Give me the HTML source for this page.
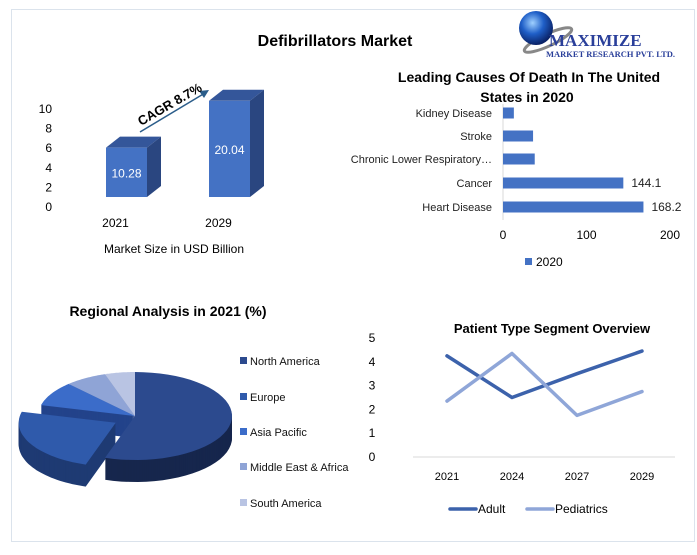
<!DOCTYPE html>
<html><head><meta charset="utf-8">
<style>
html,body{margin:0;padding:0;background:#fff;}
svg{display:block;font-family:"Liberation Sans","DejaVu Sans",sans-serif;}
</style></head>
<body>
<svg id="root" width="697" height="555" viewBox="0 0 697 555" xmlns="http://www.w3.org/2000/svg">
<defs>
<radialGradient id="globe" cx="40%" cy="35%" r="65%">
<stop offset="0" stop-color="#9fd0ff"/><stop offset="0.5" stop-color="#1f5fc8"/><stop offset="1" stop-color="#0a2266"/>
</radialGradient>
</defs>
<rect x="11.5" y="9.5" width="683" height="532" fill="#fff" stroke="#dbe3ec" stroke-width="1"/>
<text x="335" y="46" font-size="16" font-weight="bold" text-anchor="middle" fill="#000">Defibrillators Market</text>

<g>
<ellipse cx="548" cy="40" rx="26" ry="6" fill="none" stroke="#888" stroke-width="3" transform="rotate(-25 548 40)"/>
<circle cx="536" cy="28" r="17" fill="url(#globe)"/>
<text x="549" y="46" font-family="Liberation Serif,serif" font-size="17" font-weight="bold" fill="#2a3f9a">MAXIMIZE</text>
<text x="546" y="57" font-family="Liberation Serif,serif" font-size="8.5" font-weight="bold" fill="#2a3f9a">MARKET RESEARCH PVT. LTD.</text>
</g>

<g id="mkt"></g>
<g id="hbar"></g>
<g id="pie"></g>
<g id="line"></g>
</svg>
<script>
const NS="http://www.w3.org/2000/svg";
function mk(parent,tag,attrs,txt){const e=document.createElementNS(NS,tag);for(const k in attrs)e.setAttribute(k,attrs[k]);if(txt!==undefined)e.textContent=txt;parent.appendChild(e);return e;}

// ---- Market size chart data ----
const mktYears=["2021","2029"];
const mktValues=[10.28,20.04];
const mktTicks=[0,2,4,6,8,10];
// ---- Causes of death ----
const causeNames=["Heart Disease","Cancer","Chronic Lower Respiratory…","Stroke","Kidney Disease"];
const causeValues=[168.2,144.1,38,36,13];
const causeLabels=["168.2","144.1","","",""];
const causeTicks=[0,100,200];
// ---- Regional pie ----
const regions=["North America","Europe","Asia Pacific","Middle East & Africa","South America"];
const regionShares=[55,24,9,7,5];
const regionColors=["#2c4a8e","#2f5aab","#3b6cc9","#8fa4d6","#b9c4e3"];
// ---- Patient type ----
const lineYears=["2021","2024","2027","2029"];
const adultValues=[4.25,2.5,3.5,4.45];
const pedValues=[2.35,4.35,1.75,2.75];
const lineTicks=[0,1,2,3,4,5];

// Market chart
(function(){
 const g=document.getElementById('mkt');
 const y0=197, tickScale=9.8, barScale=4.8;
 const yT=v=>y0+10-v*tickScale;
 mktTicks.forEach(t=>{const e=mk(g,'text',{x:52,y:yT(t)+4,'font-size':12,'text-anchor':'end',fill:'#000'},String(t));
 
 });
 const xs=[106,209], w=41, dx=14, dy=11;
 mktValues.forEach((v,i)=>{
  const h=v*barScale, x=xs[i], top=y0-h;
  const b=mk(g,'g',{});
  
  
  mk(b,'polygon',{points:`${x},${top} ${x+dx},${top-dy} ${x+w+dx},${top-dy} ${x+w},${top}`,fill:'#34569a'});
  mk(b,'polygon',{points:`${x+w},${top} ${x+w+dx},${top-dy} ${x+w+dx},${y0-dy} ${x+w},${y0}`,fill:'#2a4680'});
  mk(b,'rect',{x:x,y:top,width:w,height:h,fill:'#4472c4'});
  const l=mk(g,'text',{x:x+w/2,y:top+h/2+5,'font-size':12,'text-anchor':'middle',fill:'#fff'},mktValues[i].toFixed(2));
  
  
  const yl=mk(g,'text',{x:x+w/2-11,y:227,'font-size':12,'text-anchor':'middle',fill:'#000'},mktYears[i]);
  
  
 });
 mk(g,'line',{x1:140,y1:132,x2:205,y2:93,stroke:'#2b5d8a','stroke-width':1.5});
 mk(g,'polygon',{points:'209,90 199,91 204,98',fill:'#2b5d8a'});
 const c=mk(g,'text',{x:0,y:0,'font-size':13,'font-weight':'bold',fill:'#000',transform:'translate(141,126) rotate(-30)'},'CAGR 8.7%');
 
 
 const cap=mk(g,'text',{x:174,y:253,'font-size':12,'text-anchor':'middle',fill:'#000'},'Market Size in USD Billion');
 
 
})();

// Horizontal bar chart
(function(){
 const g=document.getElementById('hbar');
 const x0=503, k=0.835, rowY=[207,183,159,136,113], h=11;
 const X=v=>x0+v*k;
 const t1=mk(g,'text',{x:529,y:82,'font-size':14,'font-weight':'bold','text-anchor':'middle'},'Leading Causes Of Death In The United');
 
 
 const t2=mk(g,'text',{x:527,y:102,'font-size':14,'font-weight':'bold','text-anchor':'middle'},'States in 2020');
 
 
 mk(g,'line',{x1:x0,y1:104,x2:x0,y2:220,stroke:'#d9d9d9'});
 causeValues.forEach((v,i)=>{
  const r=mk(g,'rect',{x:x0,y:rowY[i]-h/2,width:v*k,height:h,fill:'#4472c4'});
  
  
  const l=mk(g,'text',{x:492,y:rowY[i]+4,'font-size':11,'text-anchor':'end',fill:'#222'},causeNames[i]);
  
  
  if(causeLabels[i]){const d=mk(g,'text',{x:X(v)+8,y:rowY[i]+4,'font-size':12,fill:'#222'},causeLabels[i]);
  
  }
 });
 causeTicks.forEach(t=>{const e=mk(g,'text',{x:X(t),y:239,'font-size':12,'text-anchor':'middle'},String(t));
 
 });
 const lg=mk(g,'g',{});
 
 
 mk(lg,'rect',{x:525,y:258,width:7,height:7,fill:'#4472c4'});
 mk(lg,'text',{x:536,y:266,'font-size':12},'2020');
})();

// Pie chart
(function(){
 const g=document.getElementById('pie');
 const t=mk(g,'text',{x:168,y:316,'font-size':14,'font-weight':'bold','text-anchor':'middle'},'Regional Analysis in 2021 (%)');
 
 
 const cx=135, cy=416, rx=97, ry=44, depth=22;
 const total=regionShares.reduce((a,b)=>a+b,0);
 const dark=["#16264d","#1e3a73","#23438a","#5a6fa3","#8290b8"];
 const slices=[];let a=0;
 regionShares.forEach((v,i)=>{const a1=a+v/total*2*Math.PI;slices.push([a,a1]);a=a1;});
 function pathFor(a0,a1,ox,oy){
  const pt=an=>[cx+ox+rx*Math.sin(an),cy+oy-ry*Math.cos(an)];
  let d=`M${cx+ox},${cy+oy}`;const n=40;
  for(let j=0;j<=n;j++){const p=pt(a0+(a1-a0)*j/n);d+=` L${p[0].toFixed(1)},${p[1].toFixed(1)}`;}
  return d+'Z';
 }
 const off=slices.map((s,i)=>{if(i!==1)return[0,0];const m=(s[0]+s[1])/2;return[22*Math.sin(m),14*-Math.cos(m)];});
 for(let dd=depth;dd>0;dd-=1){
  slices.forEach((s,i)=>{mk(g,'path',{d:pathFor(s[0],s[1],off[i][0],off[i][1]+dd),fill:dark[i]});});
 }
 slices.forEach((s,i)=>{
  const p=mk(g,'path',{d:pathFor(s[0],s[1],off[i][0],off[i][1]),fill:regionColors[i]});
  
  
 });
 const ly=[361,397,432,467,503];
 regions.forEach((r,i)=>{
  const e=mk(g,'g',{});
  
  
  mk(e,'rect',{x:240,y:ly[i]-4,width:7,height:7,fill:regionColors[i]});
  mk(e,'text',{x:250,y:ly[i]+4,'font-size':11,fill:'#111'},r);
 });
})();

// Line chart
(function(){
 const g=document.getElementById('line');
 const t=mk(g,'text',{x:552,y:333,'font-size':13,'font-weight':'bold','text-anchor':'middle'},'Patient Type Segment Overview');
 
 
 const y0=457, k=23.8, xs0=447, dx=65;
 const Y=v=>y0-v*k, X=i=>xs0+i*dx;
 mk(g,'line',{x1:413,y1:y0,x2:675,y2:y0,stroke:'#d9d9d9'});
 lineTicks.forEach(v=>{const e=mk(g,'text',{x:372,y:Y(v)+4,'font-size':12,'text-anchor':'middle'},String(v));
 
 });
 lineYears.forEach((yr,i)=>{const e=mk(g,'text',{x:X(i),y:480,'font-size':11,'text-anchor':'middle'},yr);
 
 });
 const a=mk(g,'polyline',{points:adultValues.map((v,i)=>X(i)+','+Y(v)).join(' '),fill:'none',stroke:'#3c62ab','stroke-width':3.5,'stroke-linejoin':'round','stroke-linecap':'round'});
 
 
 const p=mk(g,'polyline',{points:pedValues.map((v,i)=>X(i)+','+Y(v)).join(' '),fill:'none',stroke:'#8fa6d8','stroke-width':3.5,'stroke-linejoin':'round','stroke-linecap':'round'});
 
 
 const l1=mk(g,'g',{});
 
 
 mk(l1,'line',{x1:450,y1:509,x2:476,y2:509,stroke:'#3c62ab','stroke-width':3.5,'stroke-linecap':'round'});
 mk(l1,'text',{x:478,y:513,'font-size':12},'Adult');
 const l2=mk(g,'g',{});
 
 
 mk(l2,'line',{x1:527,y1:509,x2:553,y2:509,stroke:'#8fa6d8','stroke-width':3.5,'stroke-linecap':'round'});
 mk(l2,'text',{x:555,y:513,'font-size':12},'Pediatrics');
})();
</script>
</body></html>
